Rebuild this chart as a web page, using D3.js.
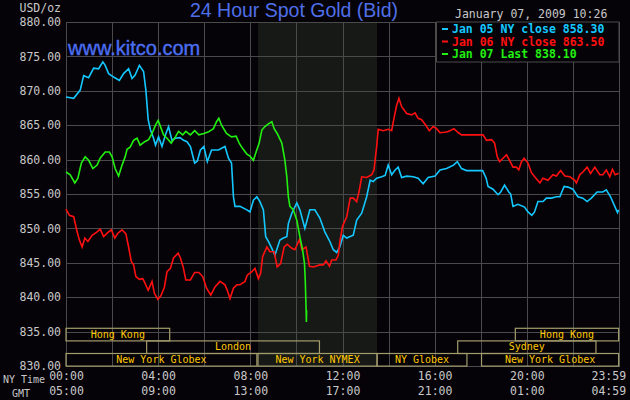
<!DOCTYPE html>
<html>
<head>
<meta charset="utf-8">
<title>24 Hour Spot Gold (Bid)</title>
<script src="https://cdnjs.cloudflare.com/ajax/libs/d3/7.8.5/d3.min.js"></script>
<style>
body { margin: 0; background: #050308; }
.mono { font-family: "DejaVu Sans Mono", monospace; }
.grid line, .grid path { stroke: #4a4a4a; shape-rendering: crispEdges; }
.ylab text, .xlab text { fill: #c8c8c8; font-family: "DejaVu Sans Mono", monospace; font-size: 11.5px; }
.ylab path, .ylab line, .xlab path, .xlab line { display: none; }
.series { fill: none; stroke-width: 1.6; }
.sess rect { fill: none; stroke: #a39c6c; stroke-width: 1.2; }
.sess text { fill: #ffc800; font-family: "DejaVu Sans Mono", monospace; font-size: 10px; text-anchor: middle; }
</style>
</head>
<body>
<svg id="chart" width="630" height="400"></svg>
<script>
// price range and tick labels
var priceTicks = [830, 835, 840, 845, 850, 855, 860, 865, 870, 875, 880];
var timeTicks = [0, 240, 480, 720, 960, 1200, 1439];   // minutes, NY time
var nyLabels = ["00:00", "04:00", "08:00", "12:00", "16:00", "20:00", "23:59"];
var gmtLabels = ["05:00", "09:00", "13:00", "17:00", "21:00", "01:00", "04:59"];

var seriesNames = ["Jan 05 NY close 858.30", "Jan 06 NY close 863.50", "Jan 07 Last 838.10"];
var seriesColors = ["#14c8ff", "#ff1010", "#22f010"];

// NYMEX floor hours (shaded)
var nymexHours = ["08:20", "13:30"];

// market sessions: name, row, start, end
var sessions = [
  ["Hong Kong", 0, "00:00", "04:30"],
  ["Hong Kong", 0, "19:30", "23:59"],
  ["London", 1, "03:30", "11:00"],
  ["Sydney", 1, "17:00", "23:00"],
  ["New York Globex", 2, "00:00", "08:17"],
  ["New York NYMEX", 2, "08:20", "13:30"],
  ["NY Globex", 2, "13:30", "17:24"],
  ["New York Globex", 2, "18:02", "23:59"]
];

// [minute, price]
var jan05 = [[0,869.1],[20,868.9],[37,870.1],[46,872.2],[59,871.9],[72,873.3],[85,873.2],[96,874.2],
  [102,873.7],[111,872.5],[124,872.0],[139,871.5],[150,872.5],[163,873.2],[172,871.8],[180,872.3],
  [191,873.7],[202,872.8],[208,870.1],[214,865.8],[220,864.3],[228,863.1],[233,862.1],[241,863.3],
  [250,861.9],[259,863.6],[267,864.8],[276,862.8],[284,863.1],[297,863.2],[306,862.8],[315,862.6],
  [324,861.9],[335,859.5],[342,859.8],[350,861.4],[359,861.9],[368,859.7],[379,861.4],[397,861.4],
  [414,861.9],[423,860.2],[431,859.5],[436,854.6],[440,853.2],[453,853.2],[471,852.7],[479,852.4],
  [488,854.1],[497,854.6],[505,853.9],[514,852.7],[520,848.8],[527,848.1],[536,847.1],[544,846.1],
  [557,848.3],[566,848.6],[575,848.8],[579,850.7],[588,852.2],[601,853.7],[609,852.7],[622,850.0],
  [635,852.7],[648,852.7],[661,851.5],[674,849.5],[687,848.1],[696,846.9],[705,846.5],[713,847.3],
  [722,849.0],[731,848.6],[748,849.0],[757,851.2],[770,852.2],[783,854.6],[792,857.0],[800,856.8],
  [809,857.3],[822,857.5],[831,857.7],[839,859.2],[848,857.8],[857,858.5],[865,858.9],[874,857.4],
  [887,857.6],[904,857.5],[917,857.3],[930,856.5],[943,857.4],[961,857.6],[974,858.5],[991,858.7],
  [1009,859.2],[1019,859.7],[1030,858.7],[1043,858.4],[1061,858.4],[1085,858.4],[1094,857.3],
  [1099,856.1],[1112,855.7],[1125,854.9],[1132,855.3],[1142,856.3],[1153,855.3],[1158,855.0],
  [1164,853.2],[1177,853.5],[1194,853.1],[1203,852.4],[1213,851.9],[1220,852.4],[1229,853.9],
  [1242,853.9],[1251,854.4],[1264,854.4],[1277,854.6],[1286,854.6],[1297,856.1],[1307,856.0],
  [1320,855.7],[1333,854.6],[1346,854.4],[1357,853.9],[1368,854.4],[1383,855.3],[1398,855.3],
  [1407,855.6],[1418,854.6],[1429,853.2],[1436,852.3],[1439,852.7]];

var jan06 = [[0,852.8],[9,851.9],[20,851.7],[29,849.5],[35,848.3],[42,847.3],[49,848.6],[57,848.1],
  [68,849.0],[81,849.5],[89,849.9],[98,848.8],[107,849.3],[118,849.8],[127,848.6],[135,849.3],
  [146,849.8],[156,849.2],[163,847.3],[170,845.2],[176,844.7],[182,843.0],[191,842.6],[200,842.7],
  [206,842.0],[214,841.0],[224,842.3],[230,840.6],[239,839.7],[247,840.2],[256,841.4],[263,843.7],
  [272,844.2],[280,845.7],[292,846.4],[298,845.7],[305,844.4],[312,842.5],[324,842.5],[335,843.6],
  [346,843.6],[356,843.0],[366,841.3],[377,840.3],[388,841.5],[401,842.3],[414,841.8],[420,841.0],
  [427,839.8],[436,841.3],[445,841.8],[453,841.8],[466,842.3],[472,843.2],[484,843.7],[492,844.2],
  [501,842.7],[507,843.5],[512,845.9],[523,847.3],[531,846.6],[542,846.6],[550,844.4],[559,844.9],
  [568,847.3],[576,847.7],[588,847.1],[596,846.9],[608,848.4],[614,846.9],[625,847.3],[634,844.5],
  [644,844.4],[661,844.7],[670,844.7],[677,845.3],[686,844.5],[692,845.4],[703,845.4],[709,846.1],
  [713,848.0],[720,850.3],[731,851.7],[740,854.4],[748,854.4],[757,853.9],[764,855.6],[770,857.5],
  [783,857.4],[796,857.8],[802,858.5],[809,861.9],[813,864.4],[826,864.2],[839,864.4],[848,864.2],
  [854,866.0],[861,867.9],[867,868.9],[874,867.7],[887,866.7],[900,866.5],[909,866.8],[917,866.0],
  [926,865.8],[937,865.0],[946,864.2],[956,864.8],[965,864.5],[974,863.9],[991,864.0],[1000,864.2],
  [1010,864.5],[1022,863.9],[1030,863.6],[1061,863.6],[1086,863.6],[1095,862.8],[1108,862.9],
  [1116,862.4],[1123,860.4],[1129,859.7],[1138,860.2],[1147,860.7],[1155,859.9],[1164,858.9],
  [1173,858.9],[1179,858.5],[1186,859.7],[1193,860.2],[1203,859.5],[1212,858.1],[1222,857.4],
  [1234,856.6],[1242,857.3],[1255,857.0],[1268,857.8],[1277,857.6],[1288,858.4],[1299,857.6],
  [1312,857.5],[1325,857.0],[1329,856.6],[1338,857.8],[1346,858.2],[1357,858.9],[1366,858.0],
  [1377,858.9],[1390,857.8],[1398,857.8],[1407,858.5],[1416,857.5],[1423,858.6],[1430,857.8],
  [1439,858.0]];

var jan07 = [[0,858.2],[11,857.8],[23,856.6],[31,857.3],[40,859.5],[50,860.4],[59,859.9],[70,858.7],
  [81,859.2],[89,860.2],[102,861.1],[113,861.1],[120,860.4],[128,858.7],[137,857.6],[146,859.2],
  [154,860.4],[159,861.5],[167,861.8],[176,862.8],[185,863.1],[193,862.1],[205,862.6],[215,862.9],
  [224,863.8],[233,865.0],[240,865.7],[248,864.5],[254,863.6],[263,863.1],[274,862.4],[285,863.3],
  [293,864.1],[304,863.6],[312,864.1],[324,863.6],[335,864.2],[346,863.6],[359,863.8],[370,864.0],
  [384,864.5],[392,865.5],[398,866.0],[405,865.0],[418,863.8],[431,863.3],[443,863.4],[451,862.4],
  [460,861.6],[471,860.8],[479,860.5],[488,859.9],[495,861.1],[503,862.4],[510,864.3],[518,864.8],
  [527,865.2],[536,865.5],[542,864.5],[550,863.8],[562,862.4],[570,859.9],[575,857.5],[579,854.6],
  [583,853.2],[592,852.7],[601,851.2],[609,848.8],[616,846.9],[621,844.9],[623,842.5],[625,838.6],
  [626,836.4],[626.5,838.1]];

var allSeries = [jan05, jan06, jan07];

var svg = d3.select("#chart");
var plotL = 66, plotR = 619, plotT = 22, plotB = 366;

var x = d3.scaleLinear().domain([0, 1440]).range([plotL, plotR]);
var y = d3.scaleLinear().domain([830, 880]).range([plotB, plotT]);

function mins(s) {
  var p = s.split(":");
  return +p[0] * 60 + +p[1];
}

svg.append("rect")
  .attr("width", 630).attr("height", 400)
  .attr("fill", "#050308");

// shaded NYMEX hours
svg.append("rect")
  .attr("x", x(mins(nymexHours[0])))
  .attr("y", plotT)
  .attr("width", x(mins(nymexHours[1])) - x(mins(nymexHours[0])))
  .attr("height", plotB - plotT)
  .attr("fill", "#161916");

// grid
svg.append("g")
  .attr("class", "grid")
  .attr("transform", `translate(0, ${plotB})`)
  .call(d3.axisBottom(x).tickValues(d3.range(0, 1441, 120))
    .tickSize(-(plotB - plotT)).tickFormat(""))
  .select(".domain").remove();

svg.append("g")
  .attr("class", "grid")
  .attr("transform", `translate(${plotL}, 0)`)
  .call(d3.axisLeft(y).tickValues(priceTicks)
    .tickSize(-(plotR - plotL)).tickFormat(""))
  .select(".domain").remove();

svg.append("rect")
  .attr("x", plotL).attr("y", plotT)
  .attr("width", plotR - plotL).attr("height", plotB - plotT)
  .attr("fill", "none").attr("stroke", "#4a4a4a")
  .attr("shape-rendering", "crispEdges");

// y labels
svg.append("g")
  .attr("class", "ylab")
  .attr("transform", `translate(${plotL}, 0)`)
  .call(d3.axisLeft(y).tickValues(priceTicks).tickSize(0).tickPadding(5)
    .tickFormat(d3.format(".2f")));

svg.append("text")
  .attr("class", "mono")
  .attr("x", 61).attr("y", 12)
  .attr("text-anchor", "end")
  .attr("fill", "#c8c8c8")
  .style("font-size", "11.5px")
  .text("USD/oz");

// x labels, NY time and GMT rows
[[nyLabels, 372], [gmtLabels, 387]].forEach(function (row) {
  var labels = row[0];
  var g = svg.append("g")
    .attr("class", "xlab")
    .attr("transform", `translate(0, ${row[1]})`)
    .call(d3.axisBottom(x).tickValues(timeTicks).tickSize(0).tickPadding(0)
      .tickFormat((d, i) => labels[i]));
  g.selectAll(".tick text")
    .filter((d, i) => i === timeTicks.length - 1)
    .attr("text-anchor", "end")
    .attr("x", 7);
});

svg.append("text")
  .attr("class", "mono")
  .attr("x", 3).attr("y", 383)
  .attr("fill", "#c8c8c8")
  .style("font-size", "10px")
  .text("NY Time");

svg.append("text")
  .attr("class", "mono")
  .attr("x", 12).attr("y", 397)
  .attr("fill", "#c8c8c8")
  .style("font-size", "10px")
  .text("GMT");

// sessions
var rowTop = 328.3, rowH = 12.6;
var sess = svg.append("g").attr("class", "sess");
sess.selectAll("rect")
  .data(sessions)
  .enter().append("rect")
    .attr("x", d => x(mins(d[2])))
    .attr("y", d => rowTop + d[1] * rowH)
    .attr("width", d => x(mins(d[3])) - x(mins(d[2])))
    .attr("height", rowH);
sess.selectAll("text")
  .data(sessions)
  .enter().append("text")
    .attr("x", d => (x(mins(d[2])) + x(mins(d[3]))) / 2)
    .attr("y", d => rowTop + d[1] * rowH + 9.5)
    .text(d => d[0]);

// price lines
var line = d3.line()
  .x(d => x(d[0]))
  .y(d => y(d[1]));

svg.selectAll(".series")
  .data(allSeries)
  .enter().append("path")
    .attr("class", "series")
    .attr("stroke", (d, i) => seriesColors[i])
    .attr("d", line);

// legend
var lg = svg.append("g");
lg.append("rect")
  .attr("x", 436.5).attr("y", plotT)
  .attr("width", plotR - 436.5).attr("height", 40)
  .attr("fill", "#050308").attr("stroke", "#4a4a4a");

seriesNames.forEach(function (name, i) {
  lg.append("rect")
    .attr("x", 442).attr("y", 28 + i * 12.5)
    .attr("width", 6).attr("height", 2)
    .attr("fill", seriesColors[i]);
  lg.append("text")
    .attr("class", "mono")
    .attr("x", 452).attr("y", 33 + i * 12.5)
    .attr("fill", seriesColors[i])
    .style("font-size", "11.5px")
    .style("font-weight", "bold")
    .text(name);
});

// titles
svg.append("text")
  .attr("x", 294).attr("y", 17)
  .attr("text-anchor", "middle")
  .attr("fill", "#4f6fe8")
  .style("font-family", "'Liberation Sans', Arial, sans-serif")
  .style("font-size", "19.5px")
  .text("24 Hour Spot Gold (Bid)");

svg.append("text")
  .attr("x", 68).attr("y", 54.5)
  .attr("fill", "#4c6ef0")
  .style("font-family", "'Liberation Sans', Arial, sans-serif")
  .style("font-size", "20px")
  .style("stroke", "#4c6ef0")
  .style("stroke-width", "0.4px")
  .text("www.kitco.com");

svg.append("text")
  .attr("class", "mono")
  .attr("x", 455).attr("y", 18)
  .attr("fill", "#c8c8c8")
  .style("font-size", "11.5px")
  .text("January 07, 2009 10:26");
</script>
</body>
</html>
